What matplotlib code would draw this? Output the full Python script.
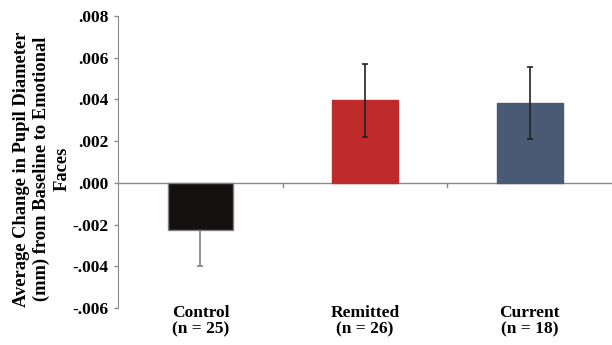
import matplotlib.pyplot as plt
import matplotlib.transforms as mtransforms

# group means and standard errors of pupil change (mm)
groups = ['Control\n(n = 25)', 'Remitted\n(n = 26)', 'Current\n(n = 18)']
means = [-0.00225, 0.00395, 0.00382]
errors = [0.00172, 0.00175, 0.00173]
bar_colors = ['#141010', '#bf2a2a', '#4a5a75']
edge_colors = ['#808080', '#bf2a2a', '#4a5a75']
err_colors = ['#808080', '#222222', '#222222']
err_z = [1.5, 3, 3]
yticks = [-0.006, -0.004, -0.002, 0.0, 0.002, 0.004, 0.006, 0.008]

plt.rcParams['font.family'] = 'Liberation Serif'
plt.rcParams['font.weight'] = 'bold'

fig = plt.figure(figsize=(6.12, 3.45), dpi=100)
ax = fig.add_axes([0.193, 0.107, 0.807, 0.847])

x = list(range(len(groups)))
ax.bar(x, means, width=0.4, color=bar_colors, edgecolor=edge_colors, linewidth=1, zorder=2)
for xi, m, e, c, z in zip(x, means, errors, err_colors, err_z):
    ax.errorbar(xi, m, yerr=e, fmt='none', ecolor=c, elinewidth=1.2, capsize=2.5, capthick=1.2, zorder=z)

# zero line with tick marks between categories
ax.axhline(0, color='#8a8a8a', linewidth=1, zorder=1)
for b in [0.5, 1.5]:
    ax.plot([b, b], [0, -0.00022], color='#8a8a8a', linewidth=1, zorder=1)

ax.set_xlim(-0.5, 2.5)
ax.set_ylim(-0.006, 0.008)
ax.set_yticks(yticks)
ax.set_yticklabels([('%.3f' % t).replace('0.', '.') if t != 0 else '.000' for t in yticks])
ax.tick_params(axis='y', length=3, width=1, color='#8a8a8a', labelsize=12.5, pad=4)
ax.set_xticks([])

for s in ['top', 'right', 'bottom']:
    ax.spines[s].set_visible(False)
ax.spines['left'].set_color('#8a8a8a')

trans = mtransforms.blended_transform_factory(ax.transData, ax.transAxes)
for xi, g in zip(x, groups):
    ax.text(xi, -0.045, g, transform=trans, ha='center', va='center', fontsize=12.5, fontweight='bold', linespacing=1.1)

fig.text(0.068, 0.51, 'Average Change in Pupil Diameter\n(mm) from Baseline to Emotional\nFaces',
         rotation=90, ha='center', va='center', multialignment='center', fontsize=13.3, fontweight='bold', linespacing=1.25)

fig.savefig('out.png', dpi=100)
